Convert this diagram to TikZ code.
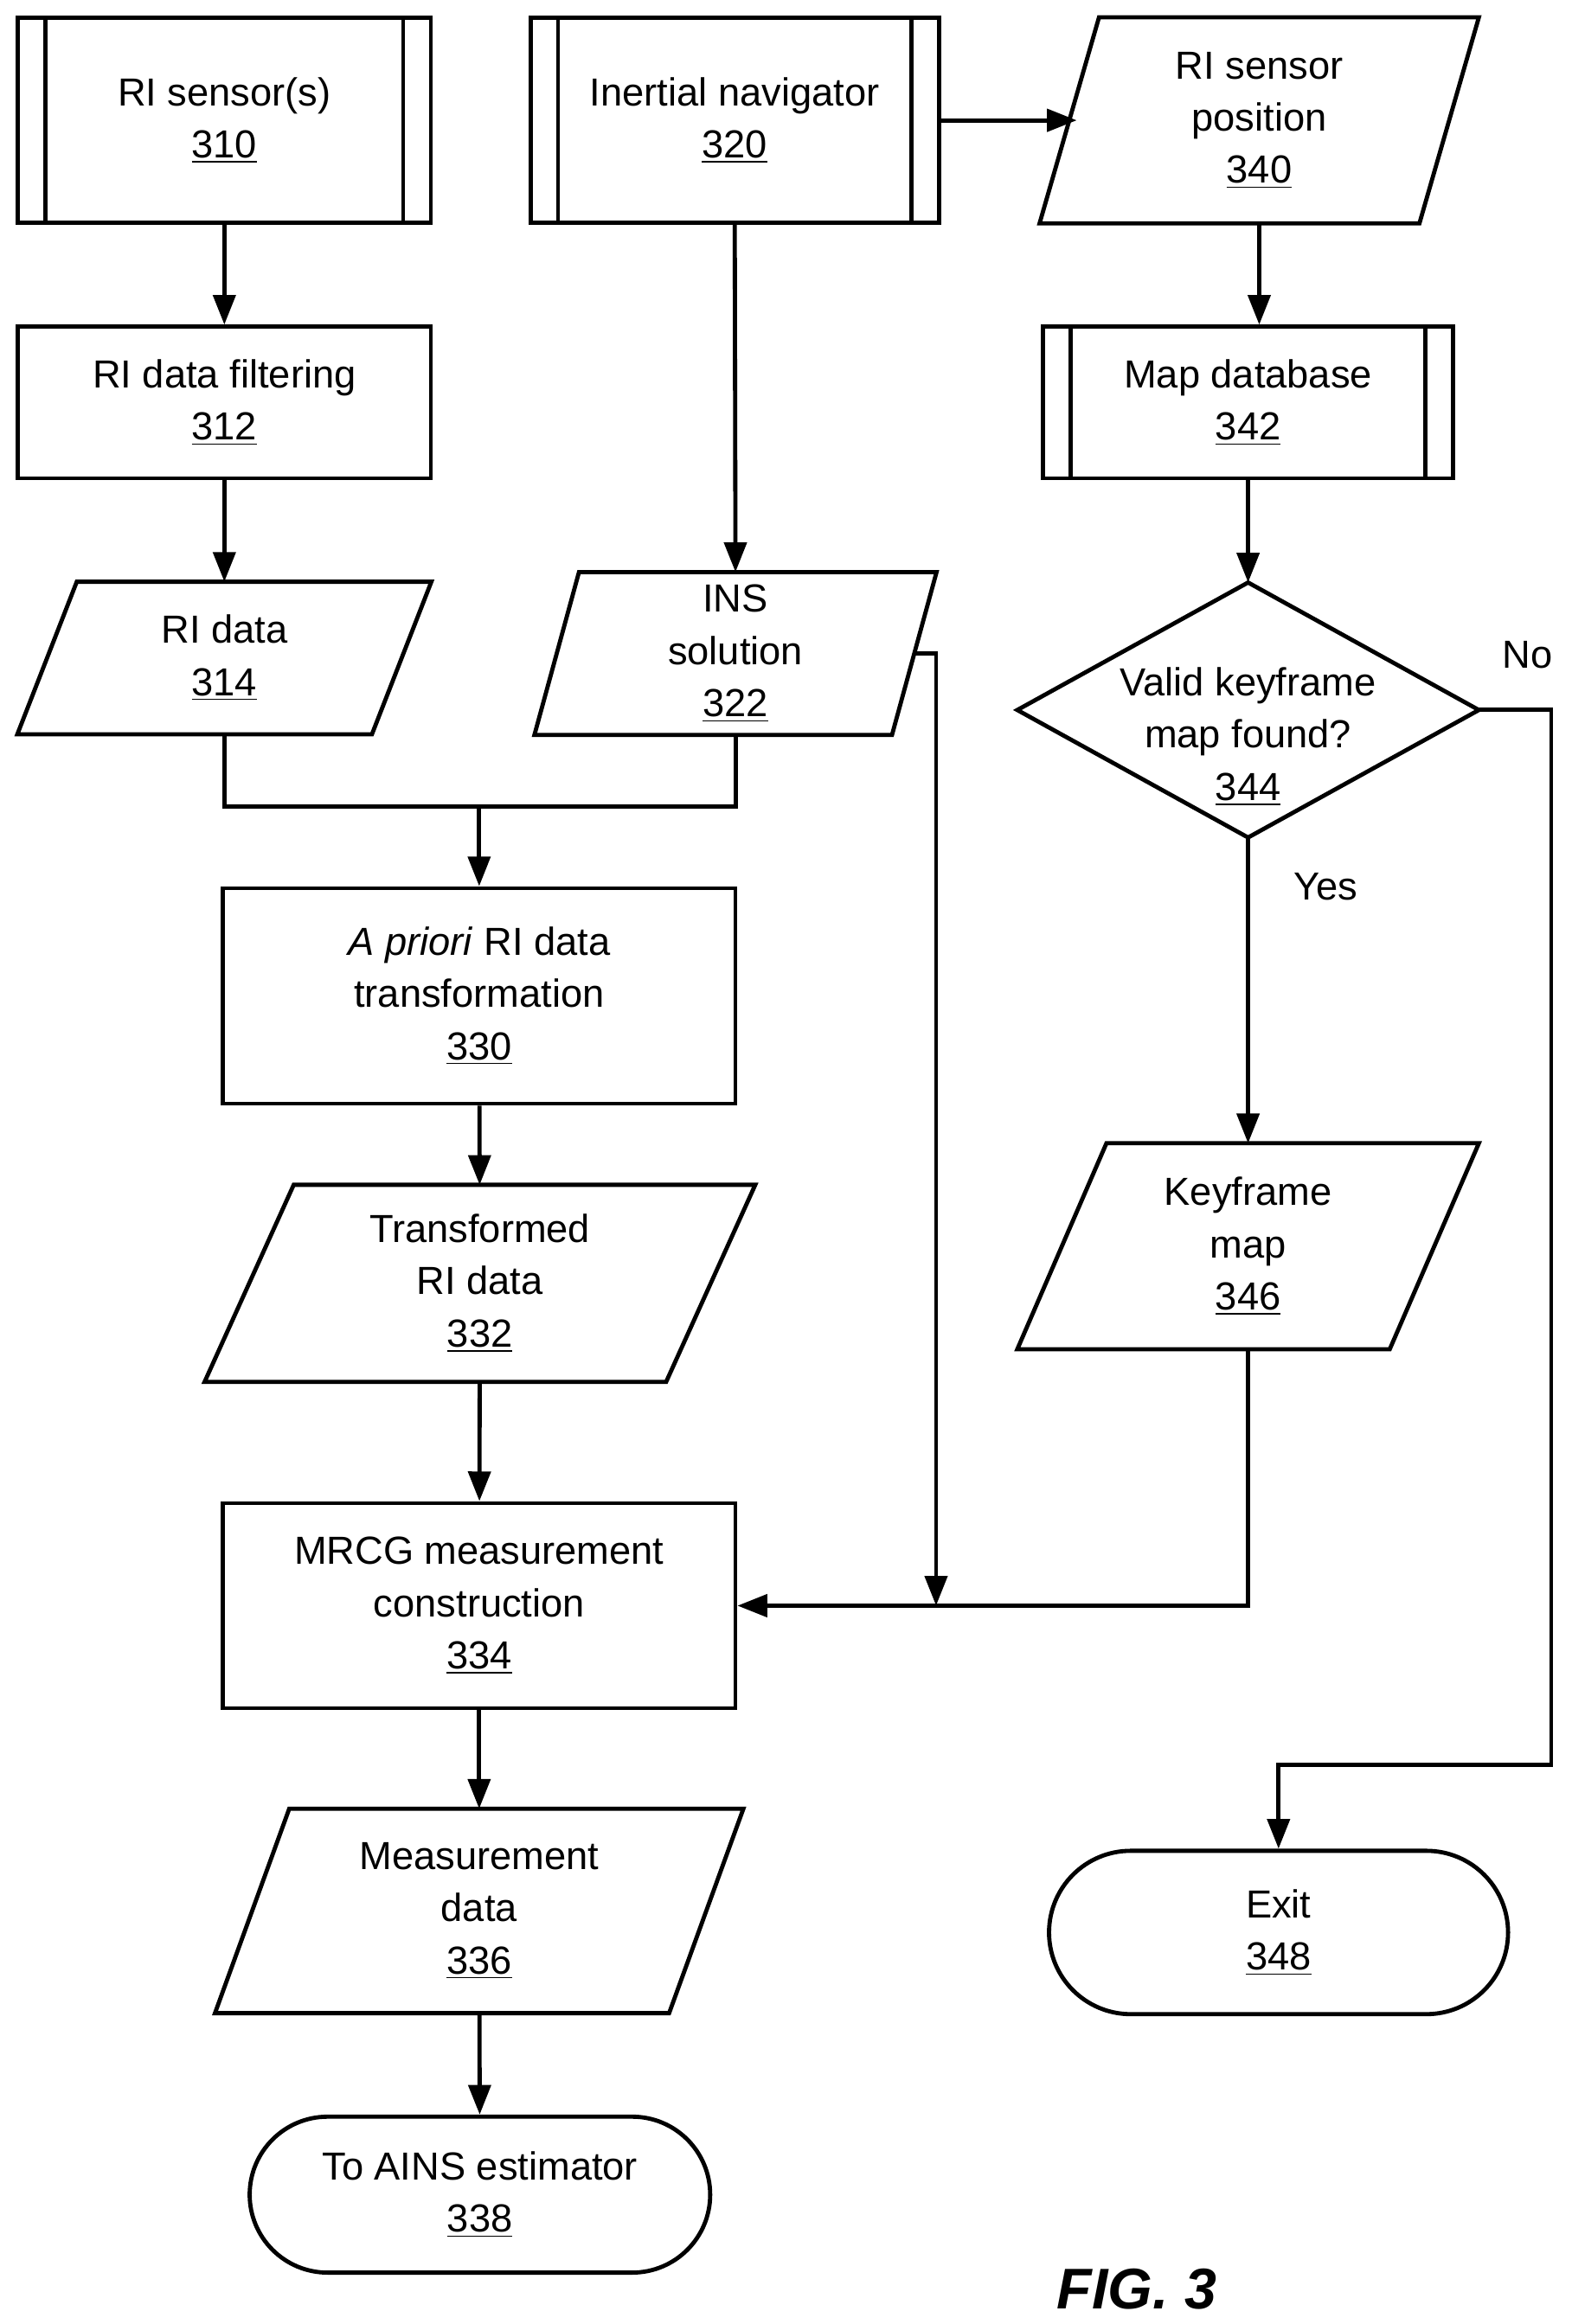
\documentclass[tikz,border=0pt]{standalone}
\usepackage{fontspec}
\setmainfont{Liberation Sans}
\usetikzlibrary{arrows.meta,calc}
\newcommand{\paraL}[2]{\draw[box] ([xshift=#2]#1.north west) -- (#1.north east) -- ([xshift=-#2]#1.south east) -- (#1.south west) -- cycle;}
\newcommand{\barsL}[1]{\draw[box] ([xshift=0.4cm]#1.north west) -- ([xshift=0.4cm]#1.south west); \draw[box] ([xshift=-0.4cm]#1.north east) -- ([xshift=-0.4cm]#1.south east);}
\begin{document}
\begin{tikzpicture}[x=0.02cm,y=-0.02cm,
  box/.style={line width=1.6pt},
  t/.style={inner sep=0pt,align=center,font=\fontsize{15}{20}\selectfont},
  rct/.style={t,draw,line width=1.6pt},
  nd/.style={t},
  arr/.style={line width=1.6pt,-{Triangle[length=0.4cm,width=0.3cm]}},
  ln/.style={line width=1.6pt}]
\useasboundingbox (0,0) rectangle (1058,1564.6);
\node[rct,minimum width=5.56cm,minimum height=2.76cm] (n310) at (151,81) {RI sensor(s)\\\underline{310}};
\barsL{n310}
\node[rct,minimum width=5.5cm,minimum height=2.76cm] (n320) at (494.5,81) {Inertial navigator\\\underline{320}};
\barsL{n320}
\node[nd,minimum width=5.9cm,minimum height=2.76cm] (n340) at (847.5,81) {RI sensor\\position\\\underline{340}};
\paraL{n340}{0.8cm}
\node[rct,minimum width=5.56cm,minimum height=2.04cm] (n312) at (151,271) {RI data filtering\\\underline{312}};
\node[rct,minimum width=5.52cm,minimum height=2.04cm] (n342) at (840,271) {Map database\\\underline{342}};
\barsL{n342}
\node[nd,minimum width=5.56cm,minimum height=2.04cm] (n314) at (151,443) {RI data\\\underline{314}};
\paraL{n314}{0.8cm}
\node[nd,minimum width=5.4cm,minimum height=2.18cm] (n322) at (495,440) {INS\\solution\\\underline{322}};
\paraL{n322}{0.6cm}
\node[nd,minimum width=6.2cm,minimum height=3.42cm] (n344) at (840,478) {};
\node[t] (n344t) at (840,496) {Valid keyframe\\map found?\\\underline{344}};
\draw[box] (n344.north) -- (n344.east) -- (n344.south) -- (n344.west) -- cycle;
\node[rct,minimum width=6.9cm,minimum height=2.9cm] (n330) at (322.5,670.5) {\textit{A priori} RI data\\transformation\\\underline{330}};
\node[nd,minimum width=7.4cm,minimum height=2.64cm] (n332) at (323,864) {Transformed\\RI data\\\underline{332}};
\paraL{n332}{1.2cm}
\node[nd,minimum width=6.2cm,minimum height=2.76cm] (n346) at (840,839) {Keyframe\\map\\\underline{346}};
\paraL{n346}{1.2cm}
\node[rct,minimum width=6.9cm,minimum height=2.76cm] (n334) at (322.5,1081) {MRCG measurement\\construction\\\underline{334}};
\node[nd,minimum width=7.1cm,minimum height=2.74cm] (n336) at (322.5,1286.5) {Measurement\\data\\\underline{336}};
\paraL{n336}{1.0cm}
\node[rct,rounded corners=1.1cm,minimum width=6.18cm,minimum height=2.2cm] (n348) at (860.5,1301) {Exit\\\underline{348}};
\node[rct,rounded corners=1.05cm,minimum width=6.2cm,minimum height=2.1cm] (n338) at (323,1477.5) {To AINS estimator\\\underline{338}};
\node[t] (no) at (1028,441) {No};
\node[t] (yes) at (892,597) {Yes};
\node[t,font=\fontsize{22}{26}\selectfont\bfseries\itshape] (fig) at (765,1541) {FIG. 3};
% connectors
\draw[arr] (n310) -- (n312);
\draw[arr] (n312) -- (n314);
\draw[arr] (n320.south) -- (n322.north);
\draw[arr] (n320.east) -- ([xshift=0.5cm]n340.west);
\draw[arr] (n340.south) -- (n340.south |- n342.north);
\draw[arr] (n342.south) -- (n344.north);
\coordinate (j1) at (322.5,543);
\draw[ln] (n314.south) |- (j1) -| (n322.south);
\draw[arr] (j1) -- (n330.north);
\draw[arr] (n330) -- (n332);
\draw[arr] (n332) -- (n334);
\draw[arr] (n334) -- (n336);
\draw[arr] (n336) -- (n338);
\coordinate (j2) at (630,1081);
\draw[arr] ([xshift=-0.3cm]n322.east) -| (j2);
\draw[arr] (n346.south) |- (n334.east);
\draw[arr] (n344.south) -- (n346.north);
\coordinate (j3) at (1044,1188);
\draw[arr] (n344.east) -| (j3) -| (n348.north);
\end{tikzpicture}
\end{document}
